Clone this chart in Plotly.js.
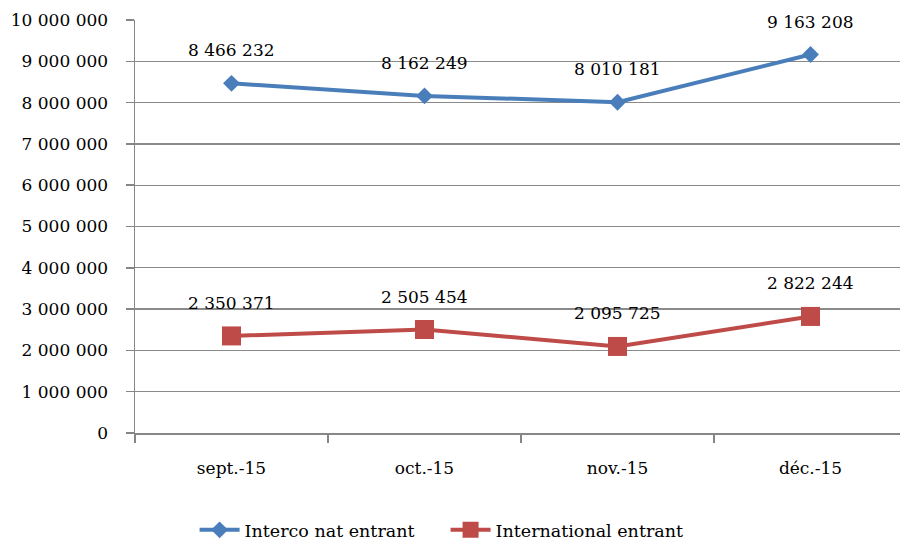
<!DOCTYPE html>
<html>
<head>
<meta charset="utf-8">
<script src="https://cdn.plot.ly/plotly-3.0.1.min.js"></script>
<style>html,body{margin:0;padding:0;background:#fff;}#chart{width:900px;height:543px;}</style>
</head>
<body>
<div id="chart"></div>
<script>
const categories = ["sept.-15", "oct.-15", "nov.-15", "déc.-15"];
const seriesNames = ["Interco nat entrant", "International entrant"];
const intercoNat = [8466232, 8162249, 8010181, 9163208];
const international = [2350371, 2505454, 2095725, 2822244];
const yTickVals = [0, 1000000, 2000000, 3000000, 4000000, 5000000, 6000000, 7000000, 8000000, 9000000, 10000000];

const FONT = "DejaVu Serif";
function fmt(v) { return String(v).replace(/\B(?=(\d{3})+(?!\d))/g, " "); }

const traces = [
  {
    x: categories, y: intercoNat, name: seriesNames[0], type: "scatter", mode: "lines+markers",
    line: {color: "#4a7ebb", width: 4},
    marker: {symbol: "diamond", size: 13, color: "#4a7ebb"}
  },
  {
    x: categories, y: international, name: seriesNames[1], type: "scatter", mode: "lines+markers",
    line: {color: "#be4b48", width: 4},
    marker: {symbol: "square", size: 19, color: "#be4b48"}
  }
];

const annotations = [];
[intercoNat, international].forEach(function(s) {
  s.forEach(function(v, i) {
    annotations.push({
      x: categories[i], y: v, xref: "x", yref: "y", text: fmt(v), showarrow: false,
      yshift: 33, font: {family: FONT, size: 17, color: "#000"}
    });
  });
});

const layout = {
  width: 900, height: 543,
  margin: {l: 135, r: 0, t: 20, b: 110},
  paper_bgcolor: "#fff", plot_bgcolor: "#fff",
  font: {family: FONT, size: 17, color: "#000"},
  showlegend: true,
  legend: {
    orientation: "h", x: 0.406, xanchor: "center", yref: "container", y: 0.024, yanchor: "middle",
    font: {family: FONT, size: 17.5, color: "#000"}, itemwidth: 40, traceorder: "normal",
    entrywidth: 196
  },
  xaxis: {
    type: "category", range: [-0.5, 3.4637], fixedrange: true,
    showline: true, linecolor: "#868686", linewidth: 1.5,
    ticks: "outside", tickson: "boundaries", ticklen: 8, tickcolor: "#868686", tickwidth: 1.5,
    showgrid: false, zeroline: false, ticklabelstandoff: 19,
    tickfont: {family: FONT, size: 17, color: "#000"}
  },
  yaxis: {
    range: [0, 10000000], tickvals: yTickVals, ticktext: yTickVals.map(fmt),
    showline: true, linecolor: "#868686", linewidth: 1.5,
    ticks: "outside", ticklen: 8, tickcolor: "#868686", tickwidth: 1.5,
    showgrid: true, gridcolor: "#8a8a8a", gridwidth: 1.3, zeroline: false,
    ticklabelstandoff: 14,
    tickfont: {family: FONT, size: 17, color: "#000"}
  },
  annotations: annotations
};

Plotly.newPlot("chart", traces, layout, {displayModeBar: false, staticPlot: true});
</script>
</body>
</html>
